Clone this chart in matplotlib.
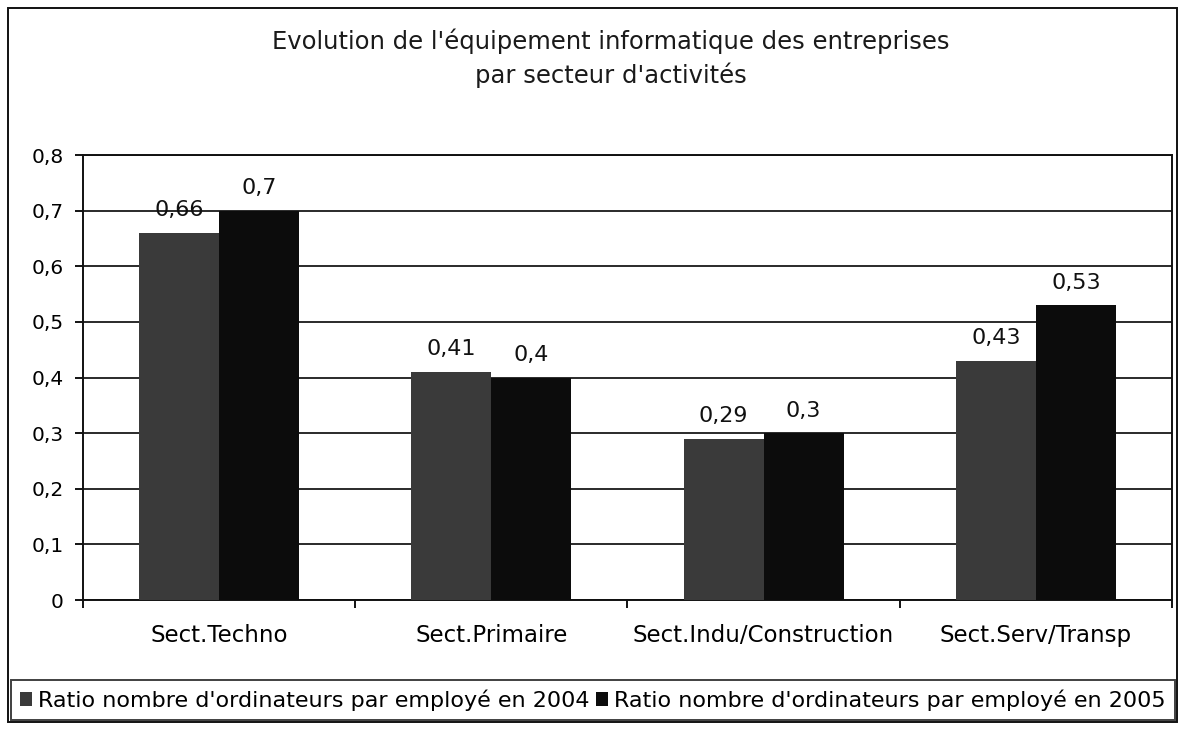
import numpy as np
import matplotlib.pyplot as plt
from matplotlib.patches import Rectangle

plt.rcParams['font.family'] = ['DejaVu Sans']

secteurs = ["Sect.Techno", "Sect.Primaire", "Sect.Indu/Construction", "Sect.Serv/Transp"]
ratio_2004 = [0.66, 0.41, 0.29, 0.43]
ratio_2005 = [0.70, 0.40, 0.30, 0.53]
labels_2004 = ["0,66", "0,41", "0,29", "0,43"]
labels_2005 = ["0,7", "0,4", "0,3", "0,53"]
yticks = [0, 0.1, 0.2, 0.3, 0.4, 0.5, 0.6, 0.7, 0.8]
ytick_labels = ["0", "0,1", "0,2", "0,3", "0,4", "0,5", "0,6", "0,7", "0,8"]

fig = plt.figure(figsize=(11.82, 7.32), dpi=100)
ax = fig.add_axes([0.0702, 0.1803, 0.9213, 0.6079])

x = np.arange(len(secteurs))
w = 0.294
b1 = ax.bar(x - w / 2, ratio_2004, w, color="#3a3a3a",
            label="Ratio nombre d'ordinateurs par employé en 2004", zorder=3)
b2 = ax.bar(x + w / 2, ratio_2005, w, color="#0c0c0c",
            label="Ratio nombre d'ordinateurs par employé en 2005", zorder=3)

for bars, labs in ((b1, labels_2004), (b2, labels_2005)):
    for rect, lab in zip(bars, labs):
        ax.annotate(lab, (rect.get_x() + rect.get_width() / 2, rect.get_height()),
                    xytext=(0, 9), textcoords="offset points",
                    ha="center", va="bottom", fontsize=16, color="#111111")

ax.set_xlim(-0.5, 3.5)
ax.set_ylim(0, 0.8)
ax.set_yticks(yticks)
ax.set_yticklabels(ytick_labels, fontsize=14.5)
ax.set_xticks(x)
ax.set_xticklabels(secteurs, fontsize=16.5)
ax.tick_params(axis="x", length=0, pad=17)
ax.tick_params(axis="y", length=6, width=1.3, pad=8, direction="out")
ax.set_xticks(np.arange(-0.5, 4, 1), minor=True)
ax.tick_params(axis="x", which="minor", length=6, width=1.3, direction="out")

ax.yaxis.grid(True, color="#2a2a2a", linewidth=1.4, zorder=0)
for s in ax.spines.values():
    s.set_color("#111111")
    s.set_linewidth(1.4)

fig.text(0.517, 0.944, "Evolution de l'équipement informatique des entreprises",
         ha="center", va="center", fontsize=17.5, color="#1a1a1a")
fig.text(0.517, 0.8975, "par secteur d'activités",
         ha="center", va="center", fontsize=17.5, color="#1a1a1a")

leg = fig.legend(loc="center", bbox_to_anchor=(0.5015, 0.0437), ncol=2, fontsize=16,
                 frameon=True, fancybox=False, edgecolor="#111111",
                 handlelength=0.55, handleheight=0.55, handletextpad=0.25,
                 columnspacing=0.3, borderpad=0.42, borderaxespad=0)
leg.get_frame().set_linewidth(1.4)

# outer frame of the chart
fig.patches.append(Rectangle((8 / 1182, 1 - 722 / 732), 1169 / 1182, 714 / 732,
                             transform=fig.transFigure, fill=False,
                             edgecolor="#111111", linewidth=1.4))

fig.savefig("out.png", dpi=100, facecolor="white")
